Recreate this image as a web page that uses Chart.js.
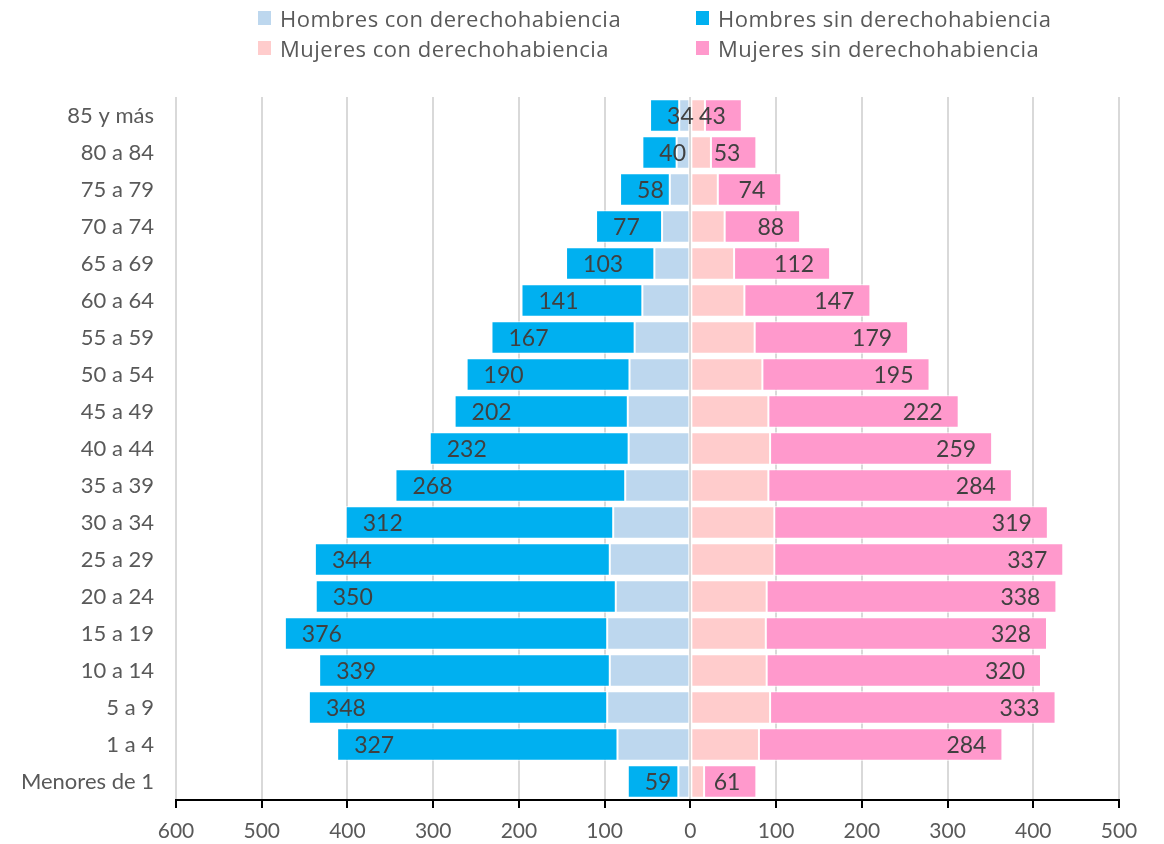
<!DOCTYPE html>
<html>
<head>
<meta charset="utf-8">
<script src="https://cdn.jsdelivr.net/npm/chart.js@4"></script>
<style>
  body { margin: 0; background: #fff; }
  #wrap { position: relative; width: 1164px; height: 844px; }
  #legend { position: absolute; left: 0; top: 0; width: 1164px; font-family: "Open Sans", sans-serif; font-size: 22px; letter-spacing: 0.5px; color: #595959; }
  .item { position: absolute; display: flex; align-items: center; white-space: nowrap; height: 30px; }
  .box { width: 13px; height: 14px; margin-right: 9px; }
</style>
</head>
<body>
<div id="wrap">
  <canvas id="pyramid" width="1164" height="844"></canvas>
  <div id="legend"></div>
</div>
<script>
var ageGroups = ['85 y más', '80 a 84', '75 a 79', '70 a 74', '65 a 69', '60 a 64', '55 a 59', '50 a 54',
    '45 a 49', '40 a 44', '35 a 39', '30 a 34', '25 a 29', '20 a 24', '15 a 19', '10 a 14', '5 a 9', '1 a 4', 'Menores de 1'];

var hombresCon = [13, 16, 24, 33, 42, 56, 65, 71, 73, 72, 76, 90, 94, 87, 97, 94, 97, 85, 14];
var hombresSin = [34, 40, 58, 77, 103, 141, 167, 190, 202, 232, 268, 312, 344, 350, 376, 339, 348, 327, 59];
var mujeresCon = [17, 24, 32, 40, 51, 63, 75, 84, 91, 93, 91, 98, 98, 89, 88, 89, 93, 80, 16];
var mujeresSin = [43, 53, 74, 88, 112, 147, 179, 195, 222, 259, 284, 319, 337, 338, 328, 320, 333, 284, 61];

var seriesNames = ['Hombres con derechohabiencia', 'Hombres sin derechohabiencia',
    'Mujeres con derechohabiencia', 'Mujeres sin derechohabiencia'];
var seriesColors = ['#BDD7EE', '#00B0F0', '#FFCCCC', '#FF99CC'];

function negate(arr) {
    return arr.map(function (v) { return -v; });
}

// labels for the "sin" series, placed at the outer end of the bar
var sinLabels = {
    id: 'sinLabels',
    afterDatasetsDraw: function (chart) {
        var ctx = chart.ctx;
        ctx.save();
        ctx.font = '23px Lato, sans-serif';
        ctx.fillStyle = '#404040';
        ctx.textBaseline = 'middle';
        [1, 3].forEach(function (di) {
            var meta = chart.getDatasetMeta(di);
            var values = di === 1 ? hombresSin : mujeresSin;
            meta.data.forEach(function (bar, i) {
                if (di === 1) {
                    ctx.textAlign = 'left';
                    ctx.fillText(values[i], bar.x + 17, bar.y + 1);
                } else {
                    ctx.textAlign = 'right';
                    ctx.fillText(values[i], bar.x - 16, bar.y + 1);
                }
            });
        });
        ctx.restore();
    }
};

var datasets = [
    { label: seriesNames[0], data: negate(hombresCon), backgroundColor: seriesColors[0] },
    { label: seriesNames[1], data: negate(hombresSin), backgroundColor: seriesColors[1] },
    { label: seriesNames[2], data: mujeresCon, backgroundColor: seriesColors[2] },
    { label: seriesNames[3], data: mujeresSin, backgroundColor: seriesColors[3] }
];
datasets.forEach(function (ds) {
    ds.borderColor = '#FFFFFF';
    ds.borderWidth = 1;
    ds.borderSkipped = false;
    ds.stack = 'pop';
    ds.barPercentage = 1;
    ds.categoryPercentage = 0.88;
});

var ctx = document.getElementById('pyramid').getContext('2d');
var chart = new Chart(ctx, {
    type: 'bar',
    data: { labels: ageGroups, datasets: datasets },
    plugins: [sinLabels],
    options: {
        indexAxis: 'y',
        responsive: false,
        animation: false,
        layout: { padding: { top: 97, right: 45, bottom: 0, left: 0 } },
        plugins: {
            legend: { display: false },
            tooltip: { enabled: false }
        },
        scales: {
            x: {
                stacked: true,
                min: -600,
                max: 500,
                ticks: {
                    stepSize: 100,
                    color: '#595959',
                    font: { family: 'Lato', size: 21 },
                    padding: 11,
                    callback: function (v) { return Math.abs(v); }
                },
                grid: {
                    color: '#D9D9D9',
                    lineWidth: 2,
                    tickColor: '#000000',
                    tickLength: 8,
                    tickWidth: 2
                },
                border: { display: true, color: '#000000', width: 2 },
                afterFit: function (scale) { scale.height = 44; }
            },
            y: {
                stacked: true,
                ticks: {
                    color: '#595959',
                    font: { family: 'Lato', size: 22 },
                    padding: 22
                },
                grid: { display: false, drawTicks: false },
                border: { display: false },
                afterFit: function (scale) { scale.width = 176; }
            }
        }
    }
});

// legend in two columns, built from the datasets
var legendPos = [[258, 3], [696, 3], [258, 33], [696, 33]];
var legendEl = document.getElementById('legend');
chart.data.datasets.forEach(function (ds, i) {
    var item = document.createElement('div');
    item.className = 'item';
    item.style.left = legendPos[i][0] + 'px';
    item.style.top = legendPos[i][1] + 'px';
    item.innerHTML = '<span class="box" style="background:' + ds.backgroundColor + '"></span>' + ds.label;
    legendEl.appendChild(item);
});
</script>
</body>
</html>
